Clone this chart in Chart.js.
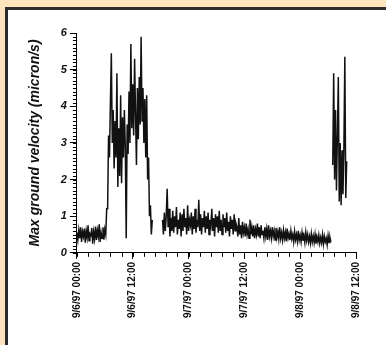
<!DOCTYPE html>
<html><head><meta charset="utf-8">
<script src="https://cdn.jsdelivr.net/npm/chart.js@4/dist/chart.umd.min.js"></script>
<style>
html,body{margin:0;padding:0;background:#FDE4BF;width:386px;height:345px;overflow:hidden;}
#frame{position:absolute;left:5px;top:7px;width:400px;height:400px;border-left:3px solid #2b2b2b;border-top:3px solid #2b2b2b;background:#fff;}
#c{position:absolute;left:0;top:0;}
</style></head><body>
<div id="frame"></div>
<canvas id="c" width="386" height="345"></canvas>
<script>
// Hours since 9/6/97 00:00
const xTickLabels = ['9/6/97 00:00','9/6/97 12:00','9/7/97 00:00','9/7/97 12:00','9/8/97 00:00','9/8/97 12:00'];
const yTickValues = [0,1,2,3,4,5,6];
const sampleStepHours = 0.2;
const segmentStarts = [0, 18.4, 55.0];

// 9/6 00:00 - 16:12 (quiet, then the daytime burst)
const segment1Values = [
 0.55,0.35,0.62,0.40,0.70,0.30,0.58,0.45,0.66,0.28,0.60,0.42,0.75,0.33,0.52,0.48,0.68,0.25,0.57,0.38,
 0.72,0.35,0.61,0.44,0.78,0.30,0.55,0.40,0.70,0.36,0.64,0.50,1.20,
 1.2,3.2,2.6,4.1,5.45,3.0,3.9,2.3,3.6,2.6,4.9,1.8,3.4,2.1,4.3,1.9,3.7,2.6,3.9,2.9,
 0.4,3.5,2.7,4.4,3.0,5.7,3.4,4.6,3.2,5.3,3.8,2.4,4.5,3.1,4.8,3.5,5.9,3.6,4.5,3.0,
 4.2,2.6,4.3,2.0,2.6,1.0,1.3,0.5,0.9
];
// 9/6 18:24 - 9/8 06:24
const segment2Values = [
 0.9,0.5,1.1,0.6,1.0,1.75,0.7,1.2,0.45,0.95,
 0.6,1.15,0.55,1.0,0.7,1.25,0.5,0.9,0.65,1.1,
 0.45,1.05,0.6,1.2,0.7,0.95,0.5,1.3,0.6,0.9,
 0.75,1.1,0.5,1.0,0.65,1.2,0.55,0.9,0.7,1.45,
 0.6,1.05,0.5,0.95,0.7,1.15,0.55,1.0,0.65,1.1,
 0.5,0.9,0.75,1.2,0.6,0.95,0.45,1.05,0.7,1.0,
 0.55,1.15,0.6,0.9,0.5,1.05,0.7,0.95,0.55,1.1,
 0.6,0.85,0.45,1.0,0.65,0.9,0.5,1.05,0.6,0.8,
 0.7,0.45,0.95,0.5,0.75,0.4,0.85,0.55,0.7,0.45,
 0.8,0.5,0.65,0.4,0.9,0.5,0.7,0.45,0.75,0.4,
 0.65,0.5,0.8,0.45,0.7,0.4,0.75,0.5,0.6,0.4,
 0.7,0.45,0.65,0.35,0.75,0.45,0.6,0.4,0.7,0.45,
 0.6,0.35,0.68,0.42,0.58,0.38,0.7,0.4,0.55,0.35,
 0.62,0.4,0.56,0.32,0.66,0.4,0.52,0.35,0.6,0.38,
 0.5,0.3,0.58,0.36,0.5,0.32,0.6,0.35,0.48,0.3,
 0.55,0.33,0.47,0.28,0.56,0.34,0.5,0.3,0.45,0.27,
 0.52,0.3,0.46,0.28,0.5,0.25,0.44,0.3,0.48,0.26,
 0.42,0.28,0.5,0.24,0.45,0.3,0.4,0.22,0.47,0.28,
 0.42,0.3
];
// 9/8 07:00 - 10:00
const segment3Values = [2.4,4.9,2.0,3.9,1.7,3.2,4.8,1.4,3.0,1.3,2.8,1.6,2.9,5.35,1.5,2.5];

const segments = [segment1Values, segment2Values, segment3Values];
const points = [];
segments.forEach((vals, s) => {
  vals.forEach((v, i) => points.push({x: segmentStarts[s] + i * sampleStepHours, y: v}));
  points.push({x: segmentStarts[s] + vals.length * sampleStepHours, y: null});
});

const xMinorStep = 2.4, yMinorStep = 0.1;
const minorTicks = {
  id: 'minorTicks',
  afterDraw(chart) {
    const {ctx, scales: {x, y}} = chart;
    ctx.save();
    ctx.strokeStyle = '#000'; ctx.lineWidth = 1;
    ctx.beginPath();
    for (let i = 0; i <= Math.round(60 / xMinorStep); i++) {
      const px = Math.round(x.getPixelForValue(i * xMinorStep)) + 0.5;
      ctx.moveTo(px, x.top); ctx.lineTo(px, x.top + 4);
    }
    for (let i = 0; i <= Math.round(6 / yMinorStep); i++) {
      const py = Math.round(y.getPixelForValue(i * yMinorStep)) + 0.5;
      ctx.moveTo(y.right - 4, py); ctx.lineTo(y.right, py);
    }
    ctx.stroke();
    ctx.restore();
  }
};

new Chart(document.getElementById('c'), {
  type: 'line',
  data: {datasets: [{data: points, borderColor: '#111', borderWidth: 1.5, pointRadius: 0, tension: 0, fill: false, spanGaps: false}]},
  options: {
    responsive: false, animation: false, events: [],
    plugins: {legend: {display: false}, tooltip: {enabled: false}},
    layout: {padding: {left: 18, right: 30, top: 33, bottom: 24}},
    scales: {
      x: {
        type: 'linear', min: 0, max: 60,
        border: {display: true, color: '#000', width: 1},
        grid: {drawOnChartArea: false, drawTicks: true, tickLength: 6, color: '#000', tickColor: '#000'},
        ticks: {stepSize: 12, autoSkip: false, minRotation: 90, maxRotation: 90, padding: 3, color: '#111',
          font: {family: 'Liberation Sans, Arial', size: 10, weight: 'bold'},
          callback: (v) => xTickLabels[Math.round(v / 12)]}
      },
      y: {
        min: 0, max: 6,
        border: {display: true, color: '#000', width: 1},
        grid: {drawOnChartArea: false, drawTicks: true, tickLength: 7, color: '#000', tickColor: '#000'},
        afterBuildTicks: (s) => { s.ticks = yTickValues.map(v => ({value: v})); },
        ticks: {padding: 3, color: '#111', font: {family: 'Liberation Sans, Arial', size: 11, weight: 'bold', style: 'italic'}},
        title: {display: true, text: 'Max ground velocity (micron/s)', color: '#111', padding: {top: 9, bottom: 14},
          font: {family: 'Liberation Sans, Arial', size: 14, weight: 'bold', style: 'italic'}}
      }
    }
  },
  plugins: [minorTicks]
});
</script>
</body></html>
